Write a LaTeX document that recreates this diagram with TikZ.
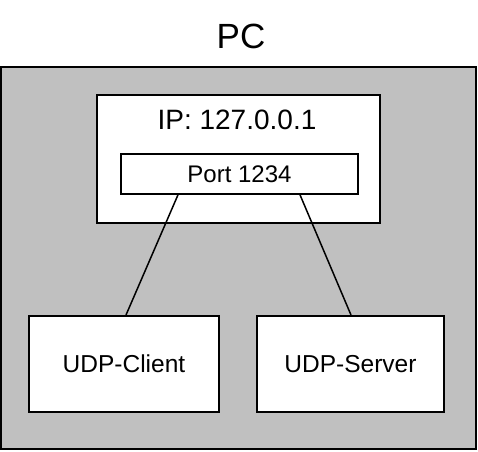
\documentclass[tikz,border=0pt]{standalone}
\usepackage{fontspec}
\setmainfont{Liberation Sans}
\usepackage{tikz}
\definecolor{pcgrey}{HTML}{C0C0C0}

\begin{document}
\begin{tikzpicture}[x=1pt,y=-1pt,
    box/.style={draw=black,line width=2pt,fill=white,inner sep=0pt},
    txt/.style={inner sep=0pt,anchor=center}]

\useasboundingbox (0,0) rectangle (478,451);

% computer
\node[draw=black,line width=2pt,fill=pcgrey,minimum width=475pt,minimum height=382pt] (pc) at (238.5,258) {};
\node[txt,font=\fontsize{35}{40}\selectfont] (pclabel) at (241,36) {PC};

% address and port
\node[box,minimum width=283pt,minimum height=128pt] (ip) at (238.5,159) {};
\node[txt,font=\fontsize{28}{32}\selectfont] (iplabel) at (237,120) {IP: 127.0.0.1};
\node[box,line width=1.6pt,minimum width=237pt,minimum height=40pt,font=\fontsize{24}{28}\selectfont] (port) at (239.5,174) {Port 1234};

% programs
\node[box,minimum width=190pt,minimum height=96pt,font=\fontsize{24.5}{28}\selectfont] (client) at (124,364) {UDP-Client};
\node[box,minimum width=187pt,minimum height=96pt,font=\fontsize{24.5}{28}\selectfont] (server) at (350.5,364) {UDP-Server};

\draw[line width=1.5pt] ([xshift=-61.5pt]port.south) -- ([xshift=2pt]client.north);
\draw[line width=1.5pt] ([xshift=60.5pt]port.south) -- ([xshift=0.5pt]server.north);

\end{tikzpicture}
\end{document}
